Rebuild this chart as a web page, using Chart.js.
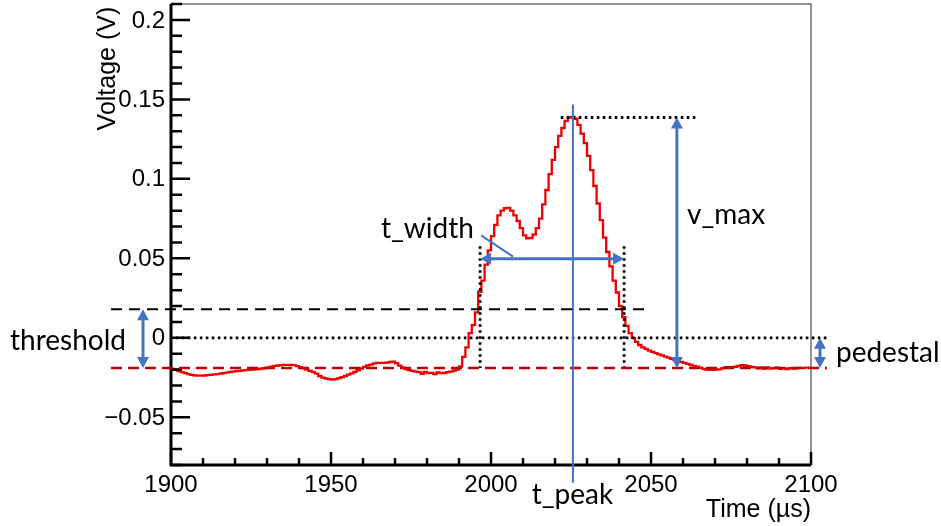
<!DOCTYPE html>
<html>
<head>
<meta charset="utf-8">
<script src="https://cdn.jsdelivr.net/npm/chart.js@4/dist/chart.umd.min.js"></script>
<style>
html,body{margin:0;padding:0;background:#fff;}
#wrap{width:941px;height:526px;}
</style>
</head>
<body>
<div id="wrap"><canvas id="c" width="941" height="526"></canvas></div>
<script>
// ---- data: one bin per microsecond, 1900..2099 ----
const startTime = 1900;
const voltage = [
 -0.0190,-0.0195,-0.0202,-0.0210,-0.0216,-0.0222,-0.0228,-0.0233,-0.0236,-0.0238,
 -0.0238,-0.0237,-0.0235,-0.0233,-0.0230,-0.0228,-0.0225,-0.0222,-0.0219,-0.0215,
 -0.0212,-0.0210,-0.0208,-0.0205,-0.0203,-0.0201,-0.0200,-0.0198,-0.0196,-0.0193,
 -0.0190,-0.0186,-0.0181,-0.0177,-0.0174,-0.0172,-0.0170,-0.0170,-0.0170,-0.0172,
 -0.0178,-0.0184,-0.0192,-0.0200,-0.0208,-0.0216,-0.0225,-0.0240,-0.0250,-0.0256,
 -0.0260,-0.0262,-0.0260,-0.0254,-0.0248,-0.0240,-0.0232,-0.0224,-0.0214,-0.0204,
 -0.0193,-0.0183,-0.0174,-0.0168,-0.0162,-0.0158,-0.0157,-0.0157,-0.0156,-0.0152,
 -0.0150,-0.0160,-0.0175,-0.0188,-0.0196,-0.0203,-0.0208,-0.0212,-0.0216,-0.0226,
 -0.0215,-0.0222,-0.0220,-0.0228,-0.0218,-0.0222,-0.0221,-0.0216,-0.0212,-0.0206,
 -0.0200,-0.0180,-0.0120,-0.0060, 0.0030, 0.0080, 0.0160, 0.0290, 0.0360, 0.0460,
  0.0550, 0.0640, 0.0710, 0.0770, 0.0800, 0.0815, 0.0818, 0.0800, 0.0770, 0.0735,
  0.0690, 0.0645, 0.0625, 0.0628, 0.0650, 0.0690, 0.0750, 0.0840, 0.0930, 0.1030,
  0.1120, 0.1200, 0.1270, 0.1320, 0.1365, 0.1385, 0.1390, 0.1378, 0.1340, 0.1285,
  0.1225, 0.1145, 0.1055, 0.0955, 0.0845, 0.0740, 0.0630, 0.0540, 0.0450, 0.0360,
  0.0285, 0.0200, 0.0130, 0.0075, 0.0030, 0.0000,-0.0025,-0.0045,-0.0060,-0.0070,
 -0.0080,-0.0088,-0.0096,-0.0104,-0.0110,-0.0118,-0.0125,-0.0132,-0.0140,-0.0146,
 -0.0152,-0.0158,-0.0164,-0.0170,-0.0176,-0.0182,-0.0188,-0.0195,-0.0200,-0.0201,
 -0.0201,-0.0200,-0.0198,-0.0190,-0.0185,-0.0185,-0.0184,-0.0182,-0.0176,-0.0172,
 -0.0174,-0.0178,-0.0183,-0.0186,-0.0192,-0.0186,-0.0193,-0.0186,-0.0194,-0.0190,
 -0.0187,-0.0195,-0.0190,-0.0196,-0.0190,-0.0194,-0.0192,-0.0189,-0.0190,-0.0187
];
const xTicks = [1900, 1950, 2000, 2050, 2100];
const yTicks = [-0.05, 0, 0.05, 0.1, 0.15, 0.2];
const xTickLabels = ['1900', '1950', '2000', '2050', '2100'];
const yTickLabels = ['\u22120.05', '0', '0.05', '0.1', '0.15', '0.2'];

// ---- annotation values (data units) ----
const pedestal = -0.019;
const threshold = 0.018;
const tLeft = 1996.6, tRight = 2041.6;
const tPeak = 2025.6, vPeak = 0.1386;
const widthLevel = 0.0497;
const vmaxTime = 2058.1;
const annLeftTime = 1881.25, annRightTime = 2105;
const thrArrowTime = 1891.25, pedArrowTime = 2102.8;

const points = voltage.map((v, i) => ({x: startTime + i, y: v}));
points.push({x: startTime + voltage.length, y: voltage[voltage.length - 1]});

const annFont = '28px Lato, "Noto Sans", sans-serif';
const axFont = '25px "Liberation Sans", Arial, sans-serif';
const tickFont = '24px "Liberation Sans", Arial, sans-serif';

function arrowHead(ctx, x1, y1, x2, y2, len, half) {
  const a = Math.atan2(y2 - y1, x2 - x1);
  ctx.beginPath();
  ctx.moveTo(x2, y2);
  ctx.lineTo(x2 - len * Math.cos(a) + half * Math.sin(a), y2 - len * Math.sin(a) - half * Math.cos(a));
  ctx.lineTo(x2 - len * Math.cos(a) - half * Math.sin(a), y2 - len * Math.sin(a) + half * Math.cos(a));
  ctx.closePath();
  ctx.fill();
}
function dblArrow(ctx, x1, y1, x2, y2) {
  const a = Math.atan2(y2 - y1, x2 - x1);
  const L = 11;
  ctx.beginPath();
  ctx.moveTo(x1 + L * 0.8 * Math.cos(a), y1 + L * 0.8 * Math.sin(a));
  ctx.lineTo(x2 - L * 0.8 * Math.cos(a), y2 - L * 0.8 * Math.sin(a));
  ctx.stroke();
  arrowHead(ctx, x2, y2, x1, y1, L, 6);
  arrowHead(ctx, x1, y1, x2, y2, L, 6);
}

const decor = {
  id: 'decor',
  afterDatasetsDraw(chart) {
    const {ctx, chartArea: ca, scales: {x, y}} = chart;
    const X = v => x.getPixelForValue(v), Y = v => y.getPixelForValue(v);
    ctx.save();
    // frame top/right
    ctx.strokeStyle = '#707070'; ctx.lineWidth = 1.5;
    ctx.beginPath();
    ctx.moveTo(ca.left, ca.top); ctx.lineTo(ca.right, ca.top); ctx.lineTo(ca.right, ca.bottom);
    ctx.stroke();
    // axes
    ctx.strokeStyle = '#000'; ctx.lineWidth = 3;
    ctx.beginPath();
    ctx.moveTo(ca.left, ca.top); ctx.lineTo(ca.left, ca.bottom); ctx.lineTo(ca.right, ca.bottom);
    ctx.stroke();
    // ticks (inside)
    ctx.lineWidth = 2.5;
    ctx.beginPath();
    for (let k = -8; k <= 21; k++) {
      const py = Y(k / 100);
      const major = (k % 5 === 0);
      ctx.moveTo(ca.left, py); ctx.lineTo(ca.left + (major ? 19 : 11), py);
    }
    for (let t = 1900; t <= 2100; t += 10) {
      const px = X(t);
      const major = (t % 50 === 0);
      ctx.moveTo(px, ca.bottom); ctx.lineTo(px, ca.bottom - (major ? 13 : 7));
    }
    ctx.stroke();

    // tick labels
    ctx.fillStyle = '#000';
    ctx.font = tickFont;
    ctx.textAlign = 'right'; ctx.textBaseline = 'middle';
    yTicks.forEach((v, i) => ctx.fillText(yTickLabels[i], ca.left - 6, Y(v) + 1));
    ctx.textAlign = 'center'; ctx.textBaseline = 'alphabetic';
    xTicks.forEach((v, i) => ctx.fillText(xTickLabels[i], X(v), ca.bottom + 27));

    // dotted lines
    ctx.lineWidth = 2.8; ctx.strokeStyle = '#000';
    ctx.setLineDash([2.6, 3.4]);
    ctx.beginPath();
    ctx.moveTo(X(1901.5), Y(0)); ctx.lineTo(X(annRightTime), Y(0));
    ctx.moveTo(X(tLeft), Y(0.0576)); ctx.lineTo(X(tLeft), Y(pedestal));
    ctx.moveTo(X(tRight), Y(0.0576)); ctx.lineTo(X(tRight), Y(pedestal));
    ctx.moveTo(X(2021.8), Y(vPeak)); ctx.lineTo(X(2064.1), Y(vPeak));
    ctx.stroke();

    // threshold dashed
    ctx.setLineDash([11, 7]);
    ctx.lineWidth = 2;
    ctx.beginPath();
    ctx.moveTo(X(annLeftTime), Y(threshold)); ctx.lineTo(X(2048.1), Y(threshold));
    ctx.stroke();
    // pedestal dashed
    ctx.strokeStyle = '#c00000'; ctx.lineWidth = 2.5;
    ctx.setLineDash([11, 6]);
    ctx.beginPath();
    ctx.moveTo(X(annLeftTime), Y(pedestal)); ctx.lineTo(X(annRightTime), Y(pedestal));
    ctx.stroke();
    ctx.setLineDash([]);

    // blue annotations
    ctx.strokeStyle = '#4472c4'; ctx.fillStyle = '#4472c4'; ctx.lineWidth = 3;
    dblArrow(ctx, X(thrArrowTime), Y(threshold), X(thrArrowTime), Y(pedestal));
    dblArrow(ctx, X(pedArrowTime), Y(0), X(pedArrowTime), Y(pedestal));
    dblArrow(ctx, X(vmaxTime), Y(vPeak), X(vmaxTime), Y(pedestal));
    dblArrow(ctx, X(tLeft), Y(widthLevel), X(tRight), Y(widthLevel));
    ctx.lineWidth = 2;
    ctx.beginPath();
    ctx.moveTo(X(tPeak), Y(0.1468)); ctx.lineTo(X(tPeak), Y(-0.0911));
    ctx.moveTo(X(1996.9), Y(0.0644)); ctx.lineTo(X(2006.9), Y(0.0511));
    ctx.stroke();

    // annotation texts
    ctx.fillStyle = '#000';
    ctx.font = annFont;
    ctx.textBaseline = 'alphabetic';
    ctx.textAlign = 'left';
    ctx.fillText('threshold', X(1849.7), Y(-0.0074));
    ctx.fillText('pedestal', X(2107.8), Y(-0.0149));
    ctx.fillText('v_max', X(2061.25), Y(0.0719));
    ctx.fillText('t_width', X(1965.6), Y(0.0627));
    ctx.fillText('t_peak', X(2012.7), Y(-0.1045));

    // axis titles
    ctx.font = axFont;
    ctx.textAlign = 'right';
    ctx.fillText('Time (\u00b5s)', X(2100), Y(-0.1125));
    ctx.save();
    ctx.translate(X(1900) - 63, Y(0.2083));
    ctx.rotate(-Math.PI / 2);
    ctx.textAlign = 'right';
    ctx.textBaseline = 'middle';
    ctx.fillText('Voltage (V)', 0, 0);
    ctx.restore();
    ctx.restore();
  }
};

new Chart(document.getElementById('c'), {
  type: 'line',
  data: {
    datasets: [{
      data: points,
      stepped: 'after',
      borderColor: '#ee0000',
      borderWidth: 2.3,
      pointRadius: 0,
      fill: false
    }]
  },
  options: {
    responsive: false,
    animation: false,
    events: [],
    layout: {padding: {left: 0, right: 130, top: 4, bottom: 0}},
    plugins: {legend: {display: false}, tooltip: {enabled: false}},
    scales: {
      x: {
        type: 'linear', min: 1900, max: 2100,
        afterFit: s => { s.height = 61; },
        afterBuildTicks: s => { s.ticks = xTicks.map(v => ({value: v})); },
        ticks: {display: false},
        grid: {display: false, drawTicks: false},
        border: {display: false}
      },
      y: {
        type: 'linear', min: -0.08, max: 0.21,
        afterFit: s => { s.width = 171; },
        afterBuildTicks: s => { s.ticks = yTicks.map(v => ({value: v})); },
        ticks: {display: false},
        grid: {display: false, drawTicks: false},
        border: {display: false}
      }
    }
  },
  plugins: [decor]
});
</script>
</body>
</html>
